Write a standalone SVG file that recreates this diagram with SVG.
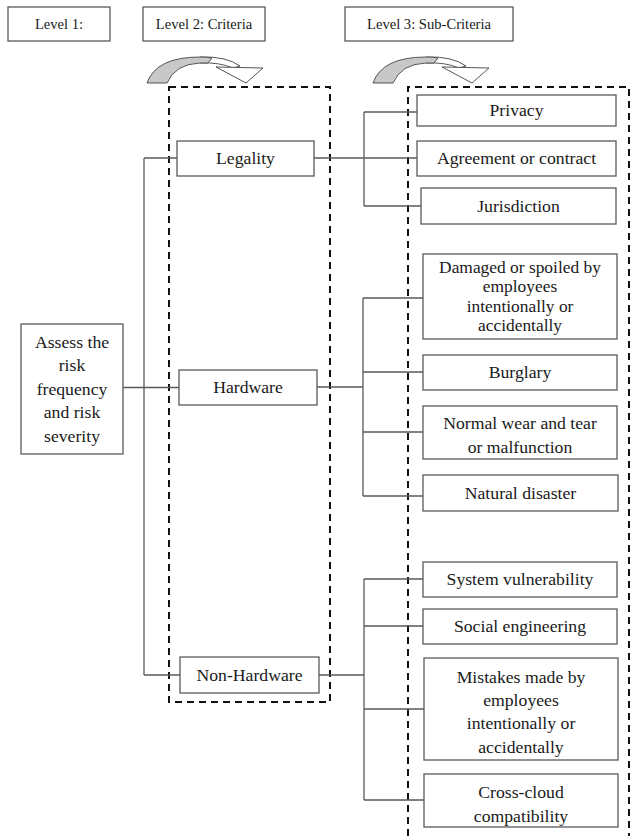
<svg xmlns="http://www.w3.org/2000/svg" width="630" height="836" viewBox="0 0 630 836">
<style>
.box{fill:#fff;stroke:#5a5a5a;stroke-width:1.3}
.t{font-family:"Liberation Serif","Times New Roman",serif;font-size:17.7px;fill:#1a1a1a;text-anchor:middle}
.h{font-size:14.6px}
.s{font-size:17.4px}
.c{fill:none;stroke:#5a5a5a;stroke-width:1.3}
.dash{fill:none;stroke:#111;stroke-width:2;stroke-dasharray:7 5}
.ag{fill:#c8c8c8;stroke:#444;stroke-width:0.9}
.aw{fill:#fff;stroke:#444;stroke-width:0.9}
</style>
<rect width="630" height="836" fill="#fff"/>
<defs>
<g id="carrow">
<path class="aw" d="M200,57 Q226,56 240,66 L233,68 Q219,62 200,63 Z"/>
<path class="aw" d="M216,67 L263,68 L246,83 Z"/>
<path class="ag" d="M147,83 Q156,57 200,57 Q207,57 212,58 L208,63 Q204,63 200,63 Q175,64 167,83 Z"/>
</g>
</defs>
<g id="headers">
<g id="h1"><rect class="box" x="8" y="7" width="102" height="34"/><text class="t h" x="59" y="29">Level 1:</text></g>
<g id="h2"><rect class="box" x="143" y="7" width="122" height="34"/><text class="t h" x="204" y="29">Level 2: Criteria</text></g>
<g id="h3"><rect class="box" x="345" y="7" width="168" height="34"/><text class="t h" x="429" y="29">Level 3: Sub-Criteria</text></g>
</g>
<g id="arrows">
<use href="#carrow"/>
<use href="#carrow" x="226"/>
</g>
<g id="frames">
<rect class="dash" x="169" y="87" width="161" height="615"/>
<path class="dash" d="M408,836 V87 H629 V836"/>
</g>
<g id="connectors">
<path class="c" d="M123,387.5 H179"/>
<path class="c" d="M144,158 V675"/>
<path class="c" d="M144,158 H177"/>
<path class="c" d="M144,675 H180"/>
<path class="c" d="M314,158 H417"/>
<path class="c" d="M364,112 V206"/>
<path class="c" d="M364,112 H417"/>
<path class="c" d="M364,206 H421"/>
<path class="c" d="M317,387 H363"/>
<path class="c" d="M363,298 V496"/>
<path class="c" d="M363,298 H423 M363,372 H423 M363,432 H423 M363,496 H423"/>
<path class="c" d="M319,675 H364"/>
<path class="c" d="M364,579 V800"/>
<path class="c" d="M364,579 H423 M364,626 H423 M364,709 H424 M364,800 H424"/>
</g>
<g id="n-assess"><rect class="box" x="21" y="324" width="102" height="130"/>
<text class="t" x="72" y="347.5">Assess the</text><text class="t" x="72" y="371">risk</text><text class="t" x="72" y="394.5">frequency</text><text class="t" x="72" y="418">and risk</text><text class="t" x="72" y="441.5">severity</text></g>
<g id="n-legality"><rect class="box" x="177" y="141" width="137" height="35"/><text class="t" x="245.5" y="164">Legality</text></g>
<g id="n-hardware"><rect class="box" x="179" y="370" width="138" height="35"/><text class="t" x="248" y="393">Hardware</text></g>
<g id="n-nonhardware"><rect class="box" x="180" y="657" width="139" height="36"/><text class="t" x="249.5" y="681">Non-Hardware</text></g>
<g id="n-privacy"><rect class="box" x="417" y="95" width="199" height="31"/><text class="t" x="516.5" y="116">Privacy</text></g>
<g id="n-agreement"><rect class="box" x="417" y="141" width="199" height="35"/><text class="t" x="516.5" y="164">Agreement or contract</text></g>
<g id="n-jurisdiction"><rect class="box" x="421" y="188" width="195" height="36"/><text class="t" x="518.5" y="212">Jurisdiction</text></g>
<g id="n-damaged"><rect class="box" x="423" y="254" width="194" height="85"/>
<text class="t s" x="520" y="272.5">Damaged or spoiled by</text><text class="t s" x="520" y="292">employees</text><text class="t s" x="520" y="311.5">intentionally or</text><text class="t s" x="520" y="331">accidentally</text></g>
<g id="n-burglary"><rect class="box" x="423" y="355" width="194" height="35"/><text class="t" x="520" y="378">Burglary</text></g>
<g id="n-normal"><rect class="box" x="423" y="406" width="194" height="53"/><text class="t" x="520" y="429">Normal wear and tear</text><text class="t" x="520" y="453">or malfunction</text></g>
<g id="n-natural"><rect class="box" x="423" y="475" width="195" height="36"/><text class="t" x="520.5" y="499">Natural disaster</text></g>
<g id="n-system"><rect class="box" x="423" y="562" width="194" height="35"/><text class="t" x="520" y="585">System vulnerability</text></g>
<g id="n-social"><rect class="box" x="423" y="609" width="194" height="35"/><text class="t" x="520" y="632">Social engineering</text></g>
<g id="n-mistakes"><rect class="box" x="424" y="658" width="194" height="102"/>
<text class="t" x="521" y="683">Mistakes made by</text><text class="t" x="521" y="706">employees</text><text class="t" x="521" y="729">intentionally or</text><text class="t" x="521" y="753">accidentally</text></g>
<g id="n-crosscloud"><rect class="box" x="424" y="774" width="194" height="53"/><text class="t" x="521" y="798">Cross-cloud</text><text class="t" x="521" y="822">compatibility</text></g>
</svg>
